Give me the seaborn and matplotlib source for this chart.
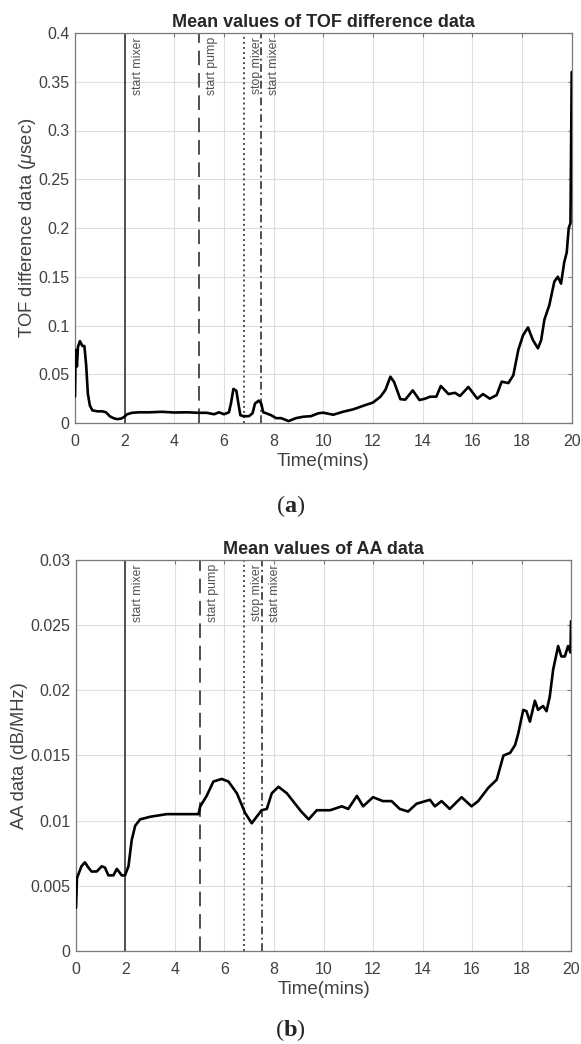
import numpy as np
import pandas as pd
import seaborn as sns
import matplotlib
matplotlib.use("Agg")
import matplotlib.pyplot as plt
from matplotlib.ticker import MultipleLocator, FuncFormatter

# ---- data ----
# (a) mean TOF difference data, usec
tof_time = [0, 0.03, 0.08, 0.12, 0.2, 0.3, 0.38, 0.45, 0.52, 0.6,
            0.7, 0.9, 1.1, 1.25, 1.4, 1.55, 1.7, 1.85, 1.97, 2.1,
            2.3, 2.6, 3.0, 3.5, 4.0, 4.5, 4.97, 5.3, 5.6, 5.8,
            6.0, 6.2, 6.28, 6.38, 6.5, 6.58, 6.66, 6.8, 7.0, 7.15,
            7.25, 7.4, 7.5, 7.58, 7.7, 7.9, 8.1, 8.3, 8.6, 8.9,
            9.2, 9.5, 9.8, 10.0, 10.4, 10.8, 11.2, 11.7, 12.0, 12.3,
            12.5, 12.7, 12.85, 13.1, 13.3, 13.6, 13.87, 14.1, 14.3, 14.55,
            14.73, 15.04, 15.3, 15.5, 15.84, 16.2, 16.43, 16.7, 16.98, 17.18,
            17.45, 17.65, 17.85, 18.04, 18.24, 18.44, 18.64, 18.77, 18.9, 19.1,
            19.3, 19.44, 19.57, 19.7, 19.8, 19.88, 19.95, 20.0]
tof_mean = [0.027, 0.075, 0.058, 0.078, 0.084, 0.079, 0.079, 0.06, 0.03, 0.018,
            0.013, 0.012, 0.012, 0.011, 0.007, 0.005, 0.004, 0.0045, 0.006, 0.009,
            0.0105, 0.011, 0.011, 0.0115, 0.0108, 0.011, 0.0105, 0.0105, 0.009, 0.011,
            0.009, 0.011, 0.02, 0.035, 0.033, 0.02, 0.008, 0.007, 0.007, 0.01,
            0.02, 0.023, 0.02, 0.011, 0.01, 0.008, 0.005, 0.005, 0.002, 0.005,
            0.0065, 0.007, 0.01, 0.0106, 0.0085, 0.0116, 0.014, 0.0185, 0.021, 0.027,
            0.034, 0.0475, 0.042, 0.0245, 0.024, 0.0335, 0.0236, 0.025, 0.027, 0.027,
            0.038, 0.0297, 0.031, 0.0277, 0.037, 0.025, 0.0297, 0.025, 0.0287, 0.0424,
            0.041, 0.049, 0.075, 0.090, 0.098, 0.085, 0.0766, 0.085, 0.106, 0.121,
            0.145, 0.150, 0.143, 0.165, 0.175, 0.2, 0.205, 0.36]

# (b) mean AA data, dB/MHz
aa_time = [0, 0.04, 0.22, 0.36, 0.5, 0.63, 0.84, 1.04, 1.17, 1.31,
           1.51, 1.65, 1.85, 1.98, 2.12, 2.25, 2.39, 2.59, 3.0, 3.66,
           4.3, 4.95, 5.02, 5.28, 5.55, 5.89, 6.16, 6.5, 6.83, 7.1,
           7.3, 7.5, 7.71, 7.91, 8.18, 8.52, 8.85, 9.1, 9.4, 9.73,
           10.27, 10.74, 11.0, 11.35, 11.6, 12.0, 12.4, 12.75, 13.08, 13.42,
           13.76, 14.3, 14.5, 14.77, 15.1, 15.58, 15.98, 16.25, 16.65, 17.0,
           17.27, 17.54, 17.74, 17.87, 18.07, 18.2, 18.34, 18.54, 18.67, 18.87,
           19.01, 19.14, 19.28, 19.48, 19.61, 19.75, 19.88, 19.98, 20.0]
aa_mean = [0.0033, 0.0056, 0.0065, 0.0068, 0.0064, 0.0061, 0.0061, 0.0065, 0.0064, 0.0058,
           0.0058, 0.0063, 0.0058, 0.0058, 0.0065, 0.0085, 0.0096, 0.0101, 0.0103, 0.0105,
           0.0105, 0.0105, 0.0111, 0.0119, 0.0130, 0.0132, 0.0130, 0.0121, 0.0106, 0.0098,
           0.0103, 0.0108, 0.0109, 0.0121, 0.0126, 0.0121, 0.0113, 0.0107, 0.0101, 0.0108,
           0.0108, 0.0111, 0.0109, 0.0119, 0.0111, 0.0118, 0.0115, 0.0115, 0.0109, 0.0107,
           0.0113, 0.0116, 0.0111, 0.0115, 0.0109, 0.0118, 0.0111, 0.0115, 0.0125, 0.01315,
           0.0150, 0.0152, 0.0158, 0.0167, 0.0185, 0.0184, 0.0176, 0.0192, 0.0185, 0.0188,
           0.0184, 0.0195, 0.0216, 0.0234, 0.0226, 0.0226, 0.0234, 0.0229, 0.0253]

# process events
event_time = [2, 5, 6.8, 7.5]
event_label = ["start mixer", "start pump", "stop mixer", "start mixer"]
event_style = ["-", (0, (7.5, 4)), (0, (1, 1.6)), (0, (4, 1.8, 1, 1.8))]


def style_axes(ax, ymax, ystep, xlabel, ylabel, title, ypad):
    """ MATLAB-like box, grid and ticks """
    ax.set_xlim(0, 20)
    ax.set_ylim(0, ymax)
    ax.xaxis.set_major_locator(MultipleLocator(2))
    ax.yaxis.set_major_locator(MultipleLocator(ystep))
    ax.yaxis.set_major_formatter(FuncFormatter(lambda v, _: f"{v:g}"))
    ax.grid(True, color="#dedede", lw=0.8)
    ax.set_axisbelow(True)
    for s in ax.spines.values():
        s.set_visible(True)
        s.set_color("#7a7a7a")
        s.set_linewidth(0.9)
    ax.tick_params(direction="in", length=3, top=True, right=True,
                   labelsize=11.5, labelcolor="#404040", color="#7a7a7a")
    ax.tick_params(axis="x", pad=8)
    ax.tick_params(axis="y", pad=4)
    ax.set_xlabel(xlabel, fontsize=13.5, color="#404040", labelpad=3)
    ax.set_ylabel(ylabel, fontsize=13.2, color="#404040", labelpad=ypad)
    ax.set_title(title, fontsize=13, fontweight="bold", pad=4)


def draw_events(ax):
    """ Vertical event lines with rotated labels """
    for xv, lab, ls in zip(event_time, event_label, event_style):
        ax.axvline(xv, color="#4f4f4f", lw=1.4, ls=ls, zorder=2)
        ax.annotate(lab, xy=(xv, 1), xycoords=("data", "axes fraction"),
                    xytext=(5, -3), textcoords="offset points",
                    rotation=90, ha="left", va="top",
                    fontsize=8.8, color="#505050")


sns.set_style("white")
plt.rcParams["font.family"] = ["Liberation Sans", "DejaVu Sans"]
plt.rcParams["mathtext.fontset"] = "custom"
plt.rcParams["mathtext.rm"] = "Liberation Serif"
plt.rcParams["mathtext.bf"] = "Liberation Serif:bold"
plt.rcParams["mathtext.it"] = "Liberation Sans:italic"

fig = plt.figure(figsize=(5.81, 10.44), dpi=100)
ax1 = fig.add_axes([0.129, 0.5948, 0.855, 0.3736])
ax2 = fig.add_axes([0.1308, 0.0891, 0.852, 0.3745])

df_tof = pd.DataFrame({"time": tof_time, "value": tof_mean})
df_aa = pd.DataFrame({"time": aa_time, "value": aa_mean})

draw_events(ax1)
sns.lineplot(data=df_tof, x="time", y="value", ax=ax1, color="black",
             lw=1.9, estimator=None, zorder=3)
style_axes(ax1, 0.4, 0.05, "Time(mins)", r"TOF difference data ($\mu$sec)",
           "Mean values of TOF difference data", 0)

draw_events(ax2)
sns.lineplot(data=df_aa, x="time", y="value", ax=ax2, color="black",
             lw=1.9, estimator=None, zorder=3)
style_axes(ax2, 0.03, 0.005, "Time(mins)", "AA data (dB/MHz)",
           "Mean values of AA data", 2)

fig.text(0.5, 1 - 506 / 1044, r"($\mathbf{a}$)", ha="center", va="center",
         fontsize=17.5, family="Liberation Serif")
fig.text(0.5, 1 - 1030 / 1044, r"($\mathbf{b}$)", ha="center", va="center",
         fontsize=17.5, family="Liberation Serif")

fig.savefig("out.png", dpi=100, facecolor="white")
